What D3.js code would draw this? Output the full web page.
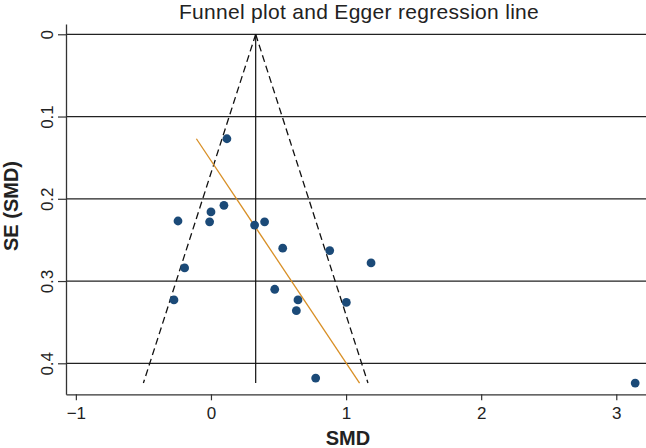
<!DOCTYPE html>
<html>
<head>
<meta charset="utf-8">
<script src="https://cdn.jsdelivr.net/npm/d3@7"></script>
<style>
  body { margin: 0; background: #fff; }
  svg { display: block; font-family: "Liberation Sans", Arial, sans-serif; }
</style>
</head>
<body>
<svg id="chart" width="646" height="448"></svg>
<script>
// study estimates
const smd = [0.118, 0.096, 0.000, -0.010, -0.244, 0.323, 0.397, 0.531, 0.879, 1.185,
             -0.195, 0.472, -0.274, 0.644, 1.002, 0.632, 0.775, 3.14]
const se  = [0.127, 0.208, 0.216, 0.228, 0.227, 0.232, 0.228, 0.260, 0.263, 0.278,
             0.284, 0.310, 0.323, 0.323, 0.326, 0.336, 0.418, 0.424]

const pooled = 0.331          // fixed effect estimate (vertical line)
const eggerEnds = [[-0.108, 0.127], [1.10, 0.424]]   // [smd, se] of egger line

const xTicks = [-1, 0, 1, 2, 3]
const yTicks = [0, 0.1, 0.2, 0.3, 0.4]

const svg = d3.select('#chart')

let x = d3.scaleLinear().domain([-1.073, 3.22]).range([66, 646])
let y = d3.scaleLinear().domain([-0.0125, 0.4377]).range([24, 394.3])

const seMax = d3.max(se)

// horizontal grid lines
svg.selectAll('.grid')
  .data(yTicks)
  .enter()
  .append('line')
  .attr('x1', x.range()[0])
  .attr('x2', x.range()[1])
  .attr('y1', d => y(d))
  .attr('y2', d => y(d))
  .attr('stroke', '#222')
  .attr('stroke-width', 1.3)

// axes
let yAxis = d3.axisLeft(y).tickValues(yTicks).tickSize(8).tickSizeOuter(0).tickFormat(d3.format('~g'))
let gy = svg.append('g').attr('transform', 'translate(66,0)').call(yAxis)
gy.select('.domain').attr('stroke', '#333').attr('stroke-width', 1.3)
gy.selectAll('.tick line').attr('stroke', '#333').attr('stroke-width', 1.2)
gy.selectAll('.tick text')
  .attr('x', 0).attr('dy', 0)
  .attr('transform', 'translate(-13,0) rotate(-90)')
  .attr('text-anchor', 'middle')
  .attr('font-size', 17)
  .attr('fill', '#222')

let xAxis = d3.axisBottom(x).tickValues(xTicks).tickSize(6).tickSizeOuter(0).tickFormat(d => d < 0 ? '\u2212' + (-d) : d)
let gx = svg.append('g').attr('transform', 'translate(0,394.3)').call(xAxis)
gx.select('.domain').attr('stroke', '#333').attr('stroke-width', 1.3)
gx.selectAll('.tick line').attr('stroke', '#333').attr('stroke-width', 1.2)
gx.selectAll('.tick text')
  .attr('y', 13)
  .attr('font-size', 17)
  .attr('fill', '#222')

// pseudo 95% confidence limits
const funnel = [
  [[pooled, 0], [pooled - 1.96 * seMax, seMax]],
  [[pooled, 0], [pooled + 1.96 * seMax, seMax]]
]
svg.selectAll('.funnel')
  .data(funnel)
  .enter()
  .append('line')
  .attr('x1', d => x(d[0][0]))
  .attr('y1', d => y(d[0][1]))
  .attr('x2', d => x(d[1][0]))
  .attr('y2', d => y(d[1][1]))
  .attr('stroke', '#111')
  .attr('stroke-width', 1.3)
  .attr('stroke-dasharray', '7,4')

svg.append('line')
  .attr('x1', x(pooled)).attr('x2', x(pooled))
  .attr('y1', y(0)).attr('y2', y(seMax))
  .attr('stroke', '#111')
  .attr('stroke-width', 1.2)

// egger regression line
svg.append('line')
  .attr('x1', x(eggerEnds[0][0])).attr('y1', y(eggerEnds[0][1]))
  .attr('x2', x(eggerEnds[1][0])).attr('y2', y(eggerEnds[1][1]))
  .attr('stroke', '#d88f25')
  .attr('stroke-width', 1.3)

// studies
svg.selectAll('circle')
  .data(smd)
  .enter()
  .append('circle')
  .attr('cx', d => x(d))
  .attr('cy', (d, i) => y(se[i]))
  .attr('r', 4.4)
  .attr('fill', '#1b4a78')

// titles
svg.append('text')
  .attr('x', 359).attr('y', 19)
  .attr('text-anchor', 'middle')
  .attr('font-size', 21)
  .attr('letter-spacing', 0.3)
  .attr('fill', '#222')
  .text('Funnel plot and Egger regression line')

svg.append('text')
  .attr('x', 348).attr('y', 445)
  .attr('text-anchor', 'middle')
  .attr('font-size', 20)
  .attr('font-weight', 'bold')
  .attr('fill', '#222')
  .text('SMD')

svg.append('text')
  .attr('transform', 'translate(18,206) rotate(-90)')
  .attr('text-anchor', 'middle')
  .attr('font-size', 20)
  .attr('font-weight', 'bold')
  .attr('fill', '#222')
  .text('SE (SMD)')
</script>
</body>
</html>
